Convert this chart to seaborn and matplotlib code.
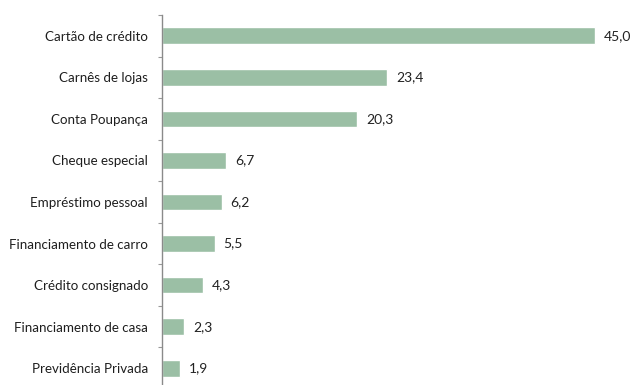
import matplotlib
matplotlib.use("Agg")
import matplotlib.pyplot as plt
import seaborn as sns
import pandas as pd
import numpy as np

categorias = [
    "Cartão de crédito",
    "Carnês de lojas",
    "Conta Poupança",
    "Cheque especial",
    "Empréstimo pessoal",
    "Financiamento de carro",
    "Crédito consignado",
    "Financiamento de casa",
    "Previdência Privada",
]
valores = [45.0, 23.4, 20.3, 6.7, 6.2, 5.5, 4.3, 2.3, 1.9]

df = pd.DataFrame({"categoria": categorias, "valor": valores})

sns.set_style("white")
plt.rcParams["font.family"] = ["Lato", "DejaVu Sans"]

fig = plt.figure(figsize=(6.33, 3.85), dpi=100)
ax = fig.add_axes([162 / 633, -4 / 385, 1 - 162 / 633 - 9 / 633, 374 / 385])

sns.barplot(data=df, y="categoria", x="valor", orient="h", color="#9bbfa5",
            saturation=1, width=0.40, ax=ax)

n = len(categorias)
ax.set_ylim(n - 0.5, -0.5)
ax.set_xlim(0, 48)

for i, v in enumerate(valores):
    ax.text(v + 0.9, i, f"{v:.1f}".replace(".", ","), va="center", ha="left",
            fontsize=10, color="#222222")

ax.set_xlabel("")
ax.set_ylabel("")
ax.set_xticks([])
ax.tick_params(axis="y", which="major", left=False, length=0, pad=10,
               labelsize=9.6, labelcolor="#1e1e1e")
ax.set_yticks(np.arange(-0.5, n, 1.0), minor=True)
ax.tick_params(axis="y", which="minor", left=True, length=3, width=0.8,
               color="#999999")

for s in ["top", "right", "bottom"]:
    ax.spines[s].set_visible(False)
ax.spines["left"].set_color("#8a8a8a")
ax.spines["left"].set_linewidth(1.0)

fig.savefig("out.png", dpi=100)
